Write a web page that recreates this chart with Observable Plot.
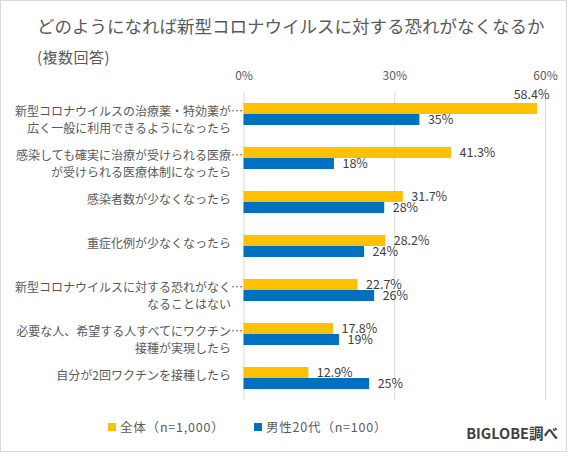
<!DOCTYPE html>
<html><head><meta charset="utf-8">
<script src="https://cdn.jsdelivr.net/npm/d3@7"></script>
<script src="https://cdn.jsdelivr.net/npm/@observablehq/plot@0.6"></script>
<style>
body{margin:0;background:#fff;overflow:hidden;font-family:"Noto Sans CJK JP","Noto Sans",sans-serif;}
#frame{position:relative;width:569px;height:456px;}
#border{position:absolute;left:0;top:0;width:565px;height:450px;border:1.5px solid #d9d9d9;}
.abs{position:absolute;white-space:nowrap;color:#595959;}
#chart{position:absolute;left:0;top:62px;}
.sq{position:absolute;width:8px;height:8px;}
</style></head>
<body>
<div id="frame">
  <div id="border"></div>
  <div class="abs" style="left:37px;top:17px;font-size:17.5px;line-height:18px;">どのようになれば新型コロナウイルスに対する恐れがなくなるか</div>
  <div class="abs" style="left:37px;top:49px;font-size:15px;line-height:16px;letter-spacing:0.5px;">(複数回答)</div>
  <div id="chart"></div>
  <div id="legend"></div>
  <div class="abs" style="right:11px;top:425px;font-size:14.5px;line-height:16px;font-weight:bold;color:#404040;">BIGLOBE調べ</div>
</div>
<script>
const categories = [
  "新型コロナウイルスの治療薬・特効薬が広く一般に利用できるようになったら",
  "感染しても確実に治療が受けられる医療体制になったら",
  "感染者数が少なくなったら",
  "重症化例が少なくなったら",
  "新型コロナウイルスに対する恐れがなくなることはない",
  "必要な人、希望する人すべてにワクチン接種が実現したら",
  "自分が2回ワクチンを接種したら"
];
const labelLine1 = [
  "新型コロナウイルスの治療薬・特効薬が…",
  "感染しても確実に治療が受けられる医療…",
  "感染者数が少なくなったら",
  "重症化例が少なくなったら",
  "新型コロナウイルスに対する恐れがなく…",
  "必要な人、希望する人すべてにワクチン…",
  "自分が2回ワクチンを接種したら"
];
const labelLine2 = [
  "広く一般に利用できるようになったら",
  "が受けられる医療体制になったら",
  "",
  "",
  "なることはない",
  "接種が実現したら",
  ""
];
const series = ["全体", "男性20代"];
const legendLabels = ["全体（n=1,000）", "男性20代（n=100）"];
const colors = ["#FFC000", "#0070C0"];
const allValues = [58.4, 41.3, 31.7, 28.2, 22.7, 17.8, 12.9];
const male20Values = [35, 18, 28, 24, 26, 19, 25];
const xTicks = [0, 30, 60];

const rows = categories.flatMap((c, i) => [
  {category: c, series: series[0], value: allValues[i], label: allValues[i].toFixed(1) + "%"},
  {category: c, series: series[1], value: male20Values[i], label: male20Values[i] + "%"}
]);
const labelRows = categories.map((c, i) => ({category: c, line1: labelLine1[i], line2: labelLine2[i]}));
const ell = d => d.line1.endsWith("…");

const chart = Plot.plot({
  width: 569,
  height: 340,
  marginLeft: 243.5,
  marginRight: 24,
  marginTop: 27,
  marginBottom: 0,
  style: {fontFamily: '"Noto Sans CJK JP","Noto Sans",sans-serif', fontSize: "12px", color: "#595959", background: "transparent"},
  x: {domain: [0, 60], ticks: xTicks, tickFormat: d => d + "%", axis: "top", tickSize: 0, tickPadding: 13, label: null},
  fy: {domain: categories, padding: 0, axis: null, label: null},
  y: {domain: series, paddingInner: 0, paddingOuter: 0.95, axis: null, label: null},
  color: {domain: series, range: colors},
  marks: [
    Plot.ruleX(xTicks, {stroke: "#d9d9d9", strokeWidth: 1}),
    Plot.barX(rows, {x: "value", y: "series", fy: "category", fill: "series"}),
    Plot.text(rows.filter(d => d.value < 55), {x: "value", y: "series", fy: "category", text: "label", dx: 8, textAnchor: "start", fill: "#404040", fontSize: 12.5}),
    Plot.text(rows.filter(d => d.value >= 55), {x: "value", y: "series", fy: "category", text: "label", dx: 12, dy: -14, textAnchor: "end", fill: "#404040", fontSize: 12.5}),
    Plot.text(labelRows.filter(d => !ell(d)), {fy: "category", frameAnchor: "left", text: "line1", dx: -13, dy: -2, textAnchor: "end", fill: "#595959"}),
    Plot.text(labelRows.filter(ell), {fy: "category", frameAnchor: "left", text: "line1", dx: -1, dy: -2, textAnchor: "end", fill: "#595959"}),
    Plot.text(labelRows, {fy: "category", frameAnchor: "left", text: "line2", dx: -13, dy: 14.5, textAnchor: "end", fill: "#595959"})
  ]
});
document.getElementById("chart").appendChild(chart);

const legend = document.getElementById("legend");
const sqX = [108, 254];
legendLabels.forEach((t, i) => {
  const s = document.createElement("div");
  s.className = "sq";
  s.style.left = sqX[i] + "px";
  s.style.top = "423px";
  s.style.background = colors[i];
  legend.appendChild(s);
  const l = document.createElement("div");
  l.className = "abs";
  l.style.left = (sqX[i] + 12) + "px";
  l.style.top = "420px";
  l.style.fontSize = "12.5px";
  l.style.lineHeight = "14px";
  l.style.letterSpacing = "0.8px";
  l.textContent = t;
  legend.appendChild(l);
});
</script>
</body></html>
